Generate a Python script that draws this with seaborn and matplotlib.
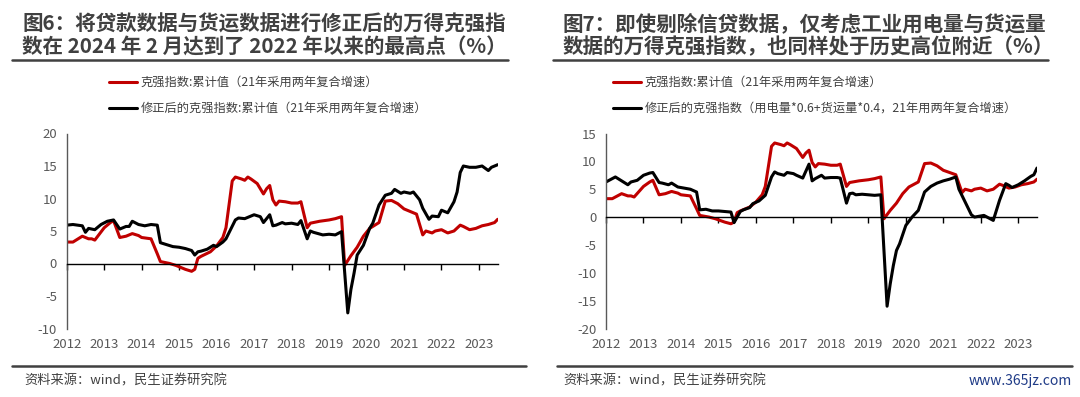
import pandas as pd
import seaborn as sns
import matplotlib.pyplot as plt
from matplotlib.lines import Line2D

# ---- data ----
red_dates = ['2012-01', '2012-03', '2012-06', '2012-08', '2012-09', '2012-10', '2013-01', '2013-03',
             '2013-04', '2013-06', '2013-08', '2013-10', '2013-12', '2014-01', '2014-04', '2014-06',
             '2014-07', '2014-10', '2014-12', '2015-03', '2015-05', '2015-06', '2015-07', '2015-08',
             '2015-11', '2016-01', '2016-03', '2016-04', '2016-06', '2016-07', '2016-09', '2016-10',
             '2016-11', '2016-12', '2017-02', '2017-03', '2017-04', '2017-05', '2017-06', '2017-07',
             '2017-08', '2017-09', '2017-11', '2018-01', '2018-03', '2018-04', '2018-06', '2018-07',
             '2018-09', '2018-10', '2019-01', '2019-03', '2019-05', '2019-06', '2019-08', '2019-10',
             '2019-12', '2020-02', '2020-05', '2020-07', '2020-09', '2020-11', '2021-01', '2021-03',
             '2021-05', '2021-07', '2021-08', '2021-10', '2021-11', '2022-01', '2022-03', '2022-05',
             '2022-07', '2022-08', '2022-10', '2022-12', '2023-02', '2023-04', '2023-06', '2023-07']
red_values = [3.3, 3.3, 4.2, 3.8, 3.8, 3.6, 5.5, 6.3,
              6.6, 4.0, 4.2, 4.6, 4.3, 4.0, 3.8, 1.5,
              0.3, 0.0, -0.3, -0.9, -1.2, -0.9, 0.8, 1.1,
              1.8, 2.7, 4.0, 5.5, 12.7, 13.3, 13.0, 12.8,
              13.3, 13.0, 12.3, 11.5, 10.7, 11.5, 12.0, 9.8,
              9.0, 9.6, 9.5, 9.3, 9.3, 9.5, 5.5, 6.2,
              6.4, 6.5, 6.7, 6.9, 7.2, -0.3, 1.2, 2.5,
              4.2, 5.4, 6.3, 9.6, 9.7, 9.2, 8.4, 8.0,
              7.6, 4.4, 5.0, 4.7, 5.0, 5.2, 4.7, 5.0,
              5.9, 5.7, 5.2, 5.4, 5.8, 6.0, 6.3, 6.8]

adj_dates = ['2012-01', '2012-03', '2012-06', '2012-07', '2012-08', '2012-10', '2012-12', '2013-02',
             '2013-04', '2013-05', '2013-06', '2013-08', '2013-09', '2013-10', '2013-12', '2014-02',
             '2014-04', '2014-06', '2014-07', '2014-09', '2014-11', '2015-01', '2015-03', '2015-05',
             '2015-06', '2015-07', '2015-08', '2015-10', '2015-12', '2016-01', '2016-03', '2016-04',
             '2016-07', '2016-08', '2016-10', '2017-01', '2017-03', '2017-04', '2017-06', '2017-07',
             '2017-08', '2017-10', '2017-11', '2018-01', '2018-03', '2018-04', '2018-06', '2018-07',
             '2018-08', '2018-11', '2019-01', '2019-03', '2019-05', '2019-07', '2019-08', '2019-09',
             '2019-10', '2019-12', '2020-02', '2020-03', '2020-05', '2020-07', '2020-09', '2020-10',
             '2020-12', '2021-01', '2021-03', '2021-04', '2021-06', '2021-07', '2021-09', '2021-10',
             '2021-12', '2022-01', '2022-03', '2022-05', '2022-06', '2022-07', '2022-08', '2022-10',
             '2022-12', '2023-02', '2023-04', '2023-05', '2023-07']
adj_values = [5.9, 6.0, 5.8, 4.8, 5.4, 5.2, 6.0, 6.5,
              6.7, 6.0, 5.3, 5.7, 5.7, 6.5, 6.0, 5.8,
              6.0, 5.9, 3.2, 2.9, 2.6, 2.5, 2.3, 2.0,
              1.3, 1.8, 1.9, 2.2, 2.8, 2.6, 3.3, 3.8,
              6.7, 7.0, 6.9, 7.5, 7.2, 6.3, 7.5, 5.8,
              5.9, 6.3, 6.1, 6.2, 6.0, 6.6, 3.8, 5.0,
              4.8, 4.4, 4.5, 4.4, 4.9, -7.6, -4.0, -1.5,
              1.3, 2.8, 5.4, 6.2, 9.0, 10.5, 10.8, 11.4,
              10.8, 11.0, 10.8, 11.0, 9.8, 8.5, 6.8, 7.3,
              7.2, 8.2, 7.8, 9.5, 11.0, 14.0, 15.0, 14.8,
              14.8, 15.0, 14.3, 14.8, 15.2]

elec_dates = ['2012-01', '2012-02', '2012-04', '2012-06', '2012-08', '2012-09', '2012-11', '2013-01',
              '2013-03', '2013-04', '2013-06', '2013-07', '2013-09', '2013-10', '2013-12', '2014-02',
              '2014-04', '2014-06', '2014-07', '2014-09', '2014-11', '2015-01', '2015-03', '2015-05',
              '2015-06', '2015-08', '2015-09', '2015-11', '2015-12', '2016-02', '2016-04', '2016-06',
              '2016-07', '2016-08', '2016-10', '2016-11', '2017-01', '2017-02', '2017-04', '2017-06',
              '2017-07', '2017-08', '2017-10', '2017-11', '2018-01', '2018-03', '2018-04', '2018-06',
              '2018-07', '2018-08', '2018-09', '2018-11', '2019-01', '2019-03', '2019-05', '2019-07',
              '2019-08', '2019-09', '2019-10', '2019-11', '2020-01', '2020-03', '2020-05', '2020-07',
              '2020-09', '2020-11', '2021-01', '2021-03', '2021-05', '2021-06', '2021-08', '2021-10',
              '2021-11', '2022-01', '2022-02', '2022-03', '2022-05', '2022-07', '2022-09', '2022-10',
              '2022-11', '2023-01', '2023-03', '2023-05', '2023-06', '2023-07']
elec_values = [6.3, 6.6, 7.2, 6.5, 5.8, 6.3, 6.6, 7.5,
               7.9, 8.0, 6.2, 6.1, 5.8, 6.1, 5.4, 5.2,
               5.0, 4.5, 1.3, 1.4, 1.1, 1.1, 1.0, 0.9,
               -1.0, 1.0, 1.3, 1.7, 2.4, 2.9, 3.9, 7.2,
               8.1, 7.8, 7.5, 8.0, 7.8, 7.5, 7.0, 9.5,
               6.5, 6.9, 7.5, 7.0, 7.1, 7.1, 7.0, 2.5,
               4.2, 4.3, 4.0, 4.1, 4.0, 3.9, 4.0, -16.0,
               -12.0, -8.7, -6.0, -4.8, -1.5, 0.0, 1.2, 4.5,
               5.5, 6.1, 6.5, 6.8, 7.2, 5.0, 2.7, 0.4,
               0.0, 0.2, 0.3, 0.0, -0.6, 3.0, 6.0, 5.7,
               5.3, 5.8, 6.5, 7.3, 7.6, 8.8]

years = list(range(2012, 2024))

titles = [['图6：将贷款数据与货运数据进行修正后的万得克强指',
           '数在 2024 年 2 月达到了 2022 年以来的最高点（%）'],
          ['图7：即使剔除信贷数据，仅考虑工业用电量与货运量',
           '数据的万得克强指数，也同样处于历史高位附近（%）']]
red_label = '克强指数:累计值（21年采用两年复合增速）'
black_labels = ['修正后的克强指数:累计值（21年采用两年复合增速）',
                '修正后的克强指数（用电量*0.6+货运量*0.4，21年用两年复合增速）']
yticks = [[-10, -5, 0, 5, 10, 15, 20], [-20, -15, -10, -5, 0, 5, 10, 15]]
source = '资料来源：wind，民生证券研究院'


def to_frame(dates, values):
    d = pd.to_datetime(dates, format='%Y-%m')
    return pd.DataFrame({'t': d.year + (d.month - 1) / 12, 'v': values})


sns.set_theme(style='white')
plt.rcParams['font.family'] = ['Noto Sans CJK SC', 'DejaVu Sans']
plt.rcParams['axes.unicode_minus'] = False

RED = '#C00000'
GRAY = '#595959'
DARK = '#404040'

fig = plt.figure(figsize=(10.8, 3.97), dpi=100)
W, H = 1080, 397

red_df = to_frame(red_dates, red_values)
black_dfs = [to_frame(adj_dates, adj_values), to_frame(elec_dates, elec_values)]

for i, x0 in enumerate([66.7, 606]):
    ax = fig.add_axes([x0 / W, 1 - 328.5 / H, 431 / W, 195 / H])
    sns.lineplot(data=red_df, x='t', y='v', color=RED, lw=2.2, ax=ax, label=red_label)
    sns.lineplot(data=black_dfs[i], x='t', y='v', color='black', lw=2.2, ax=ax,
                 label=black_labels[i])
    ax.set_xlim(2012, 2023.5)
    ax.set_ylim(yticks[i][0], yticks[i][-1])
    ax.set_yticks(yticks[i])
    ax.set_xlabel('')
    ax.set_ylabel('')
    for s in ['top', 'right']:
        ax.spines[s].set_visible(False)
    ax.spines['left'].set_color(GRAY)
    ax.spines['left'].set_linewidth(1)
    ax.spines['bottom'].set_position(('data', 0))
    ax.spines['bottom'].set_color('black')
    ax.spines['bottom'].set_linewidth(1)
    ax.set_xticks(years)
    ax.tick_params(axis='x', bottom=True, direction='out', length=4, width=1,
                   color='black', labelbottom=False)
    ax.tick_params(axis='y', left=False, length=0, pad=7, labelsize=9.5, labelcolor=GRAY)
    sec = ax.secondary_xaxis('bottom')
    sec.set_xticks(years)
    sec.set_xticklabels([str(y) for y in years])
    sec.tick_params(length=0, pad=7, labelsize=9.5, labelcolor=GRAY)
    sec.spines['bottom'].set_visible(False)

    lx = (103 if i == 0 else 607) / W
    ax.legend(loc='upper left', bbox_to_anchor=(lx, 1 - 70 / H), bbox_transform=fig.transFigure,
              frameon=False, borderpad=0, handlelength=2.3, handletextpad=0.3,
              labelspacing=1.05, fontsize=8.8, labelcolor=DARK)

    # title block
    tx = (22 if i == 0 else 563) / W
    fig.text(tx, 1 - 24 / H, titles[i][0], fontsize=14.8, fontweight='bold', color=DARK, va='center')
    fig.text(tx, 1 - 47 / H, titles[i][1], fontsize=14.8, fontweight='bold', color=DARK, va='center')
    ux = (12, 508) if i == 0 else (553, 1048)
    fig.add_artist(Line2D([ux[0] / W, ux[1] / W], [1 - 60 / H] * 2, color=DARK, lw=1.8))

    # footer
    fx = (12, 526) if i == 0 else (557, 1072)
    fig.add_artist(Line2D([fx[0] / W, fx[1] / W], [1 - 366 / H] * 2, color=DARK, lw=1.8))
    fig.text((24 if i == 0 else 563) / W, 1 - 381 / H, source, fontsize=9.5, color=DARK, va='center')

fig.text(1072 / W, 1 - 381 / H, 'www.365jz.com', fontsize=10, color='#1F3B87', va='center', ha='right')

fig.savefig('out.png', dpi=100)
